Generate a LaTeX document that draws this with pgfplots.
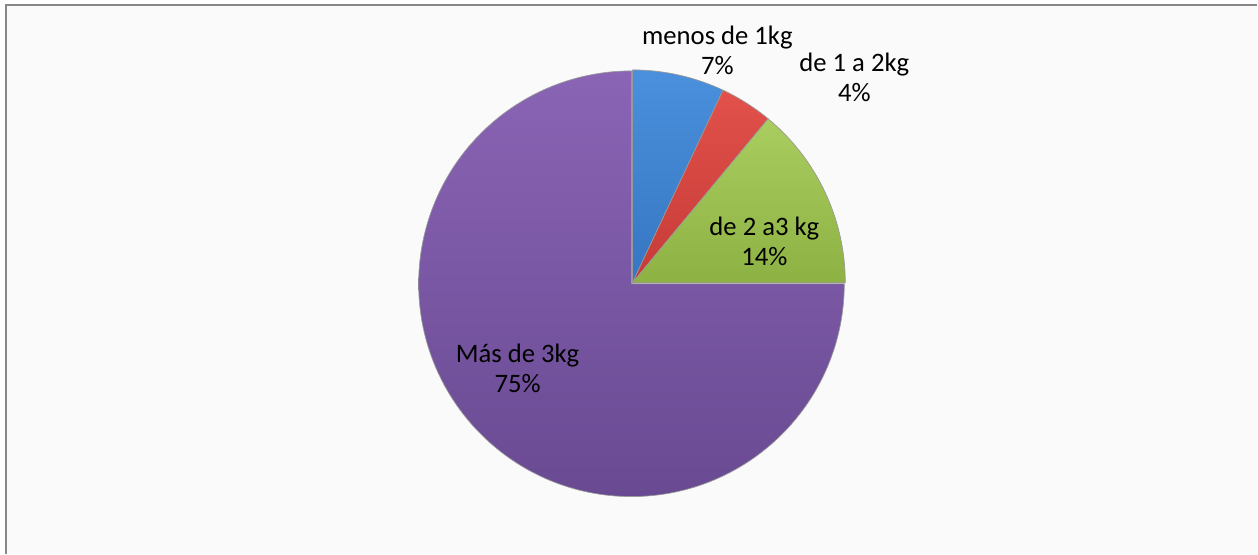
\documentclass[border=0pt]{standalone}
\usepackage{pgfplots}
\usepackage{pgfplotstable}
\pgfplotsset{compat=1.18}
\usepackage{fontspec}
\setmainfont{Carlito}
\definecolor{bgc}{HTML}{FAFAFA}
\definecolor{framec}{HTML}{878787}
\definecolor{blueT}{HTML}{4A90DC}\definecolor{blueB}{HTML}{3676C2}
\definecolor{redT}{HTML}{E2514B}\definecolor{redB}{HTML}{C63A36}
\definecolor{greenT}{HTML}{A9CD5E}\definecolor{greenB}{HTML}{8DB243}
\definecolor{purpT}{HTML}{8A64B5}\definecolor{purpB}{HTML}{694A92}
\pgfplotstableread{
label value
menos 7
de1a2 4
de2a3 14
mas 75
}\piedata
\pgfplotstablegetelem{0}{value}\of\piedata\let\va\pgfplotsretval
\pgfplotstablegetelem{1}{value}\of\piedata\let\vb\pgfplotsretval
\pgfplotstablegetelem{2}{value}\of\piedata\let\vc\pgfplotsretval
\pgfplotstablegetelem{3}{value}\of\piedata\let\vd\pgfplotsretval
\pgfmathsetmacro{\aA}{90}
\pgfmathsetmacro{\aB}{90-3.6*\va}
\pgfmathsetmacro{\aC}{90-3.6*(\va+\vb)}
\pgfmathsetmacro{\aD}{90-3.6*(\va+\vb+\vc)}
\pgfmathsetmacro{\aE}{90-3.6*(\va+\vb+\vc+\vd)}
\def\R{159.75pt}
\begin{document}
\begin{tikzpicture}
\begin{axis}[
  x=0.75pt, y=0.75pt,
  xmin=0, xmax=1258, ymin=0, ymax=554,
  hide axis, clip=false,
]
\fill[white] (axis cs:0,0) rectangle (axis cs:1258,554);
\fill[bgc] (axis cs:6,0) rectangle (axis cs:1258,549);
\draw[framec, line width=1.6pt] (axis cs:6,0) -- (axis cs:6,549) -- (axis cs:1258,549);
% slices
\path[draw=black!40, line width=0.5pt, top color=blueT, bottom color=blueB]
  (axis cs:633,271) -- ++(\aA:\R) arc[start angle=\aA, end angle=\aB, radius=\R] -- cycle;
\path[draw=black!40, line width=0.5pt, top color=redT, bottom color=redB]
  (axis cs:633,271) -- ++(\aB:\R) arc[start angle=\aB, end angle=\aC, radius=\R] -- cycle;
\path[draw=black!40, line width=0.5pt, top color=greenT, bottom color=greenB]
  (axis cs:633,271) -- ++(\aC:\R) arc[start angle=\aC, end angle=\aD, radius=\R] -- cycle;
\path[draw=black!40, line width=0.5pt, top color=purpT, bottom color=purpB]
  (axis cs:632,270) -- ++(\aD:\R) arc[start angle=\aD, end angle=\aE, radius=\R] -- cycle;
% labels
\begin{scope}[every node/.style={align=center, font=\fontsize{20}{22.5}\selectfont, inner sep=0pt}]
\node at (axis cs:718,504) {menos de 1kg\\7\%};
\node at (axis cs:855,477) {de 1 a 2kg\\4\%};
\node at (axis cs:765,312) {de 2 a3 kg\\14\%};
\node at (axis cs:518,185) {Más de 3kg\\75\%};
\end{scope}
\end{axis}
\end{tikzpicture}
\end{document}
